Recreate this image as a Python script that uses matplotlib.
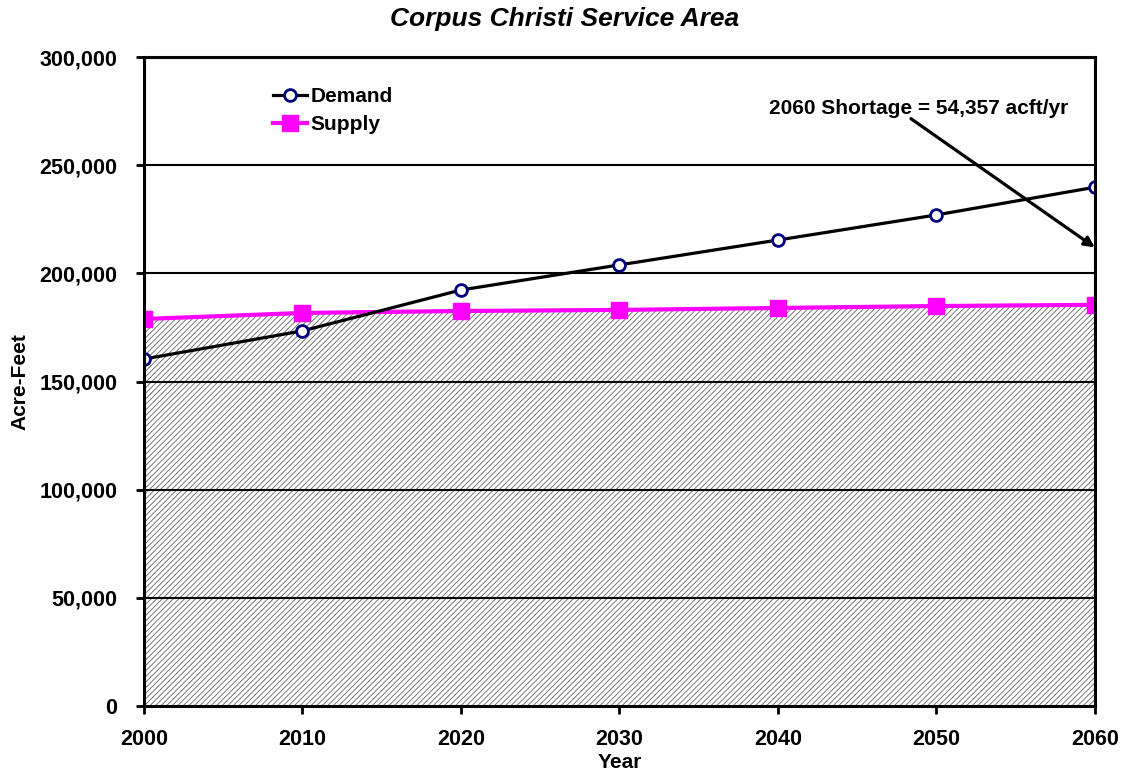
import matplotlib
matplotlib.use("Agg")
import matplotlib.pyplot as plt
from matplotlib.ticker import FuncFormatter

plt.rcParams['font.family'] = ['Liberation Sans', 'DejaVu Sans']
plt.rcParams['hatch.color'] = '#666666'
plt.rcParams['hatch.linewidth'] = 0.7

years = [2000, 2010, 2020, 2030, 2040, 2050, 2060]
demand = [160400, 173400, 192300, 203900, 215400, 227000, 239800]
supply = [178900, 181700, 182600, 183100, 184000, 184900, 185443]
shortage_label = "2060 Shortage = 54,357 acft/yr"

fig = plt.figure(figsize=(11.24, 7.76), dpi=100)
ax = fig.add_axes([0.128, 0.0902, 0.846, 0.8363])

ax.fill_between(years, 0, supply, facecolor='white', edgecolor='#777777',
                hatch='//////', linewidth=0.8, zorder=1)

for y in range(50000, 300001, 50000):
    ax.axhline(y, color='black', linewidth=1.5, zorder=2)

ax.plot(years, demand, color='black', linewidth=2.3, marker='o',
        markersize=8.5, markerfacecolor='white', markeredgecolor='#000080',
        markeredgewidth=2, label='Demand', zorder=4)
ax.plot(years, supply, color='#FF00FF', linewidth=3, marker='s',
        markersize=11, markerfacecolor='#FF00FF', markeredgecolor='#FF00FF',
        label='Supply', zorder=3)

ax.set_xlim(2000, 2060)
ax.set_ylim(0, 300000)
ax.set_xticks(years)
ax.set_yticks(range(0, 300001, 50000))
ax.yaxis.set_major_formatter(FuncFormatter(lambda v, p: f"{int(v):,}"))
for lab in ax.get_xticklabels() + ax.get_yticklabels():
    lab.set_fontweight('bold')
    lab.set_fontsize(15.5)
ax.tick_params(axis='both', direction='out', length=6, width=2, colors='black')
ax.tick_params(axis='x', pad=10.5)
ax.tick_params(axis='y', pad=13)

for s in ax.spines.values():
    s.set_linewidth(2.2)
    s.set_color('black')
    s.set_zorder(5)

ax.set_xlabel('Year', fontsize=15, fontweight='bold', labelpad=2)
ax.set_ylabel('Acre-Feet', fontsize=15, fontweight='bold', labelpad=7)
fig.text(0.502, 0.975, 'Corpus Christi Service Area', ha='center', va='center',
         fontsize=19, fontweight='bold', fontstyle='italic')

# callout text and arrow pointing at the 2060 gap
ax.text(2048.9, 276000, shortage_label, ha='center', va='center',
        fontsize=15, fontweight='bold', zorder=6)
ax.annotate('', xy=(2060, 212000), xytext=(2048.4, 271500),
            arrowprops=dict(arrowstyle='-|>', color='black', lw=2.3,
                            mutation_scale=15, shrinkA=0, shrinkB=0),
            zorder=6)

leg = ax.legend(loc='upper left', bbox_to_anchor=(0.1158, 0.982), frameon=False,
                prop={'weight': 'bold', 'size': 15}, handlelength=1.65,
                handletextpad=0.15, labelspacing=0.42)

fig.savefig('out.png', dpi=100)
